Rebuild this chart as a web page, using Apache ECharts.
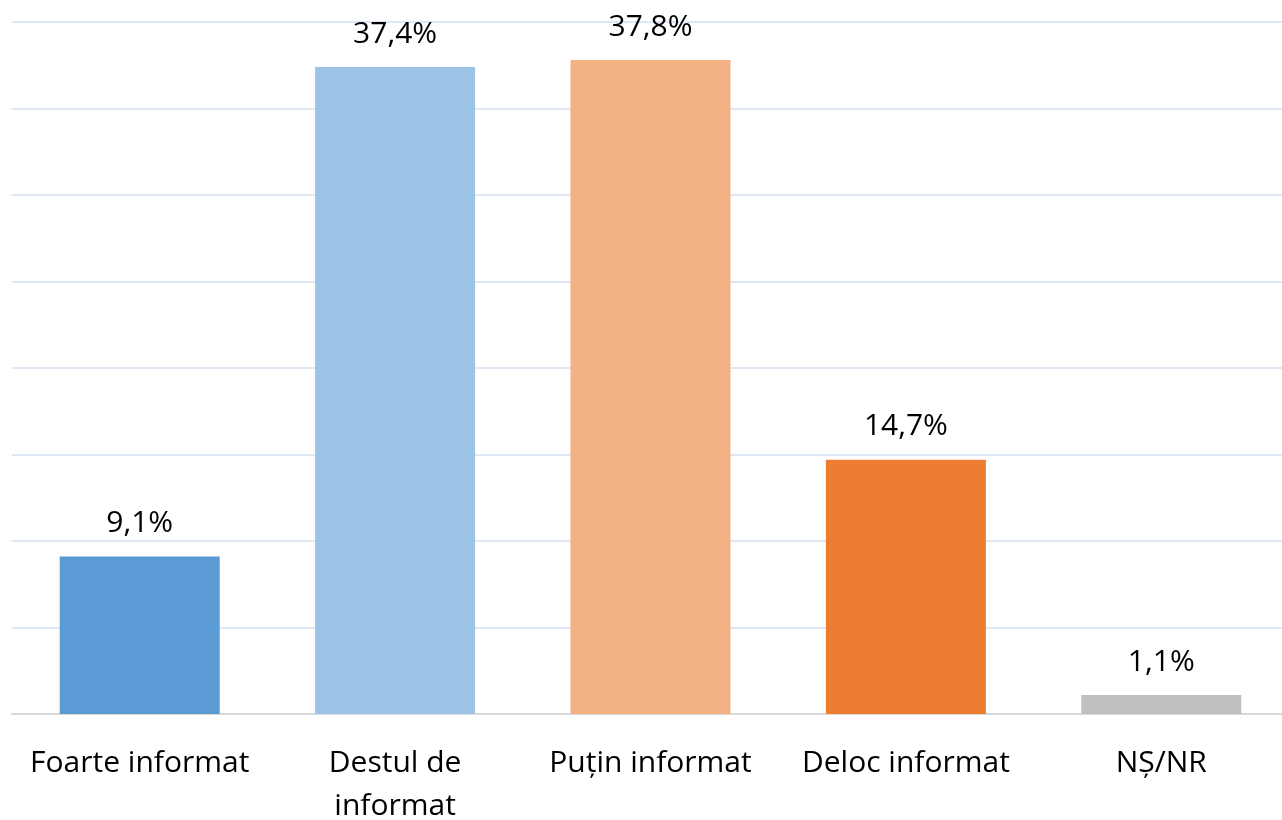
<!DOCTYPE html>
<html>
<head>
<meta charset="utf-8">
<script src="https://cdn.jsdelivr.net/npm/echarts@6/dist/echarts.min.js"></script>
<style>
  html, body { margin: 0; padding: 0; background: #fff; }
  #main { width: 1282px; height: 820px; }
</style>
</head>
<body>
<div id="main"></div>
<script>
  // categories and values
  var categories = ['Foarte informat', 'Destul de\ninformat', 'Puțin informat', 'Deloc informat', 'NȘ/NR']
  var values = [9.1, 37.4, 37.8, 14.7, 1.1]
  var colors = ['#5B9BD5', '#9DC3E6', '#F4B183', '#ED7D31', '#BFBFBF']

  var chart = echarts.init(document.getElementById('main'))
  chart.setOption({
    animation: false,
    textStyle: { fontFamily: 'Open Sans' },
    grid: { left: 12, top: 22, width: 1277, height: 692, outerBoundsMode: 'none', containLabel: false },
    xAxis: {
      type: 'category',
      data: categories,
      axisLine: { lineStyle: { color: '#D9D9D9', width: 2 } },
      axisTick: { show: false },
      axisLabel: {
        color: '#000',
        fontSize: 30,
        lineHeight: 43,
        margin: 28,
        interval: 0
      }
    },
    yAxis: {
      type: 'value',
      min: 0,
      max: 40,
      interval: 5,
      axisLabel: { show: false },
      axisLine: { show: false },
      axisTick: { show: false },
      splitLine: { lineStyle: { color: '#DEE8F4', width: 2 } }
    },
    series: [{
      type: 'bar',
      barWidth: 160,
      data: values.map(function (v, i) {
        return { value: v, itemStyle: { color: colors[i] } }
      }),
      label: {
        show: true,
        position: 'top',
        distance: 18,
        color: '#000',
        fontSize: 30,
        formatter: function (p) {
          return p.value.toFixed(1).replace('.', ',') + '%'
        }
      }
    }]
  })
</script>
</body>
</html>
